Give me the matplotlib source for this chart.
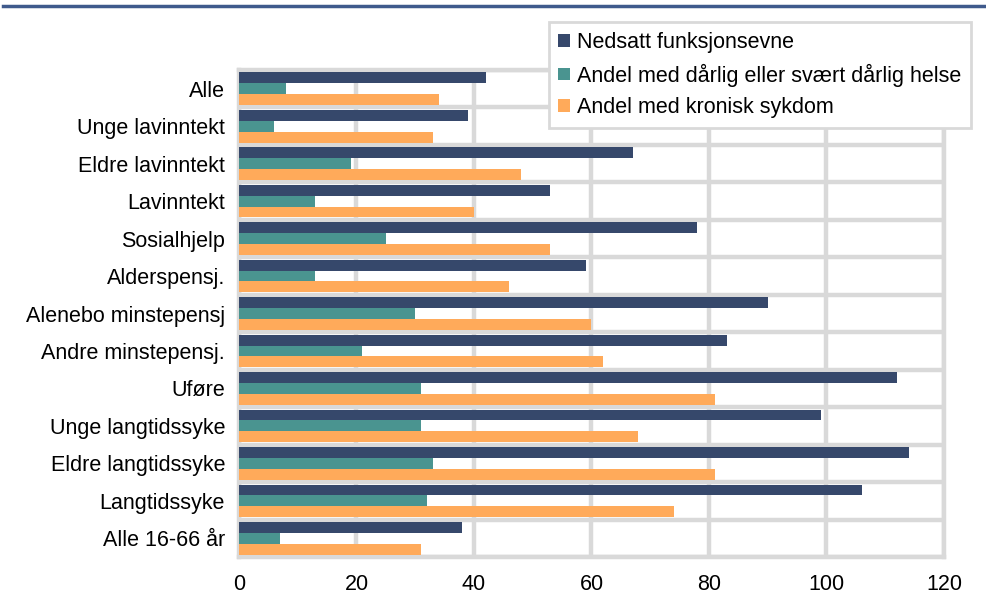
import matplotlib

matplotlib.use("Agg")
import matplotlib.pyplot as plt
from matplotlib.lines import Line2D
import numpy as np

plt.rcParams["font.family"] = ["Liberation Sans", "DejaVu Sans"]

categories = [
    "Alle", "Unge lavinntekt", "Eldre lavinntekt", "Lavinntekt", "Sosialhjelp",
    "Alderspensj.", "Alenebo minstepensj", "Andre minstepensj.", "Uføre",
    "Unge langtidssyke", "Eldre langtidssyke", "Langtidssyke", "Alle 16-66 år",
]
nedsatt = [42, 39, 67, 53, 78, 59, 90, 83, 112, 99, 114, 106, 38]
darlig_helse = [8, 6, 19, 13, 25, 13, 30, 21, 31, 31, 33, 32, 7]
kronisk = [34, 33, 48, 40, 53, 46, 60, 62, 81, 68, 81, 74, 31]

series_names = [
    "Nedsatt funksjonsevne",
    "Andel med dårlig eller svært dårlig helse",
    "Andel med kronisk sykdom",
]
colors = ["#36486B", "#4A9490", "#FFAA5A"]
GRID = "#D9D9D9"
FS = 15.5

fig = plt.figure(figsize=(9.87, 5.96), dpi=100)
ax = fig.add_axes([0.2421, 0.0654, 0.7143, 0.8171])

y = np.arange(len(categories))
h = 0.29
for k, (vals, name, col) in enumerate(zip([nedsatt, darlig_helse, kronisk], series_names, colors)):
    ax.barh(y + (k - 1) * h, vals, height=h, color=col, label=name, zorder=3)

ax.set_xlim(0, 120)
ax.set_ylim(len(categories) - 0.5, -0.5)
ax.set_xticks(np.arange(0, 121, 20))
ax.set_yticks(y)
ax.set_yticklabels(categories)
ax.set_yticks(np.arange(-0.5, len(categories), 1), minor=True)
ax.tick_params(axis="both", which="both", length=0, labelsize=FS)
ax.tick_params(axis="x", pad=12)
ax.tick_params(axis="y", pad=10)

ax.xaxis.grid(True, color=GRID, linewidth=3.2, zorder=0)
ax.yaxis.grid(True, which="minor", color=GRID, linewidth=3.2, zorder=0)
ax.set_axisbelow(True)
for s in ax.spines.values():
    s.set_color(GRID)
    s.set_linewidth(3.2)

leg = ax.legend(loc="upper left", bbox_to_anchor=(0.556, 0.963), bbox_transform=fig.transFigure,
                fontsize=FS, frameon=True, fancybox=False, framealpha=1,
                handlelength=0.55, handleheight=0.55, handletextpad=0.3,
                borderpad=0.45, labelspacing=0.5, borderaxespad=0)
leg.get_frame().set_edgecolor(GRID)
leg.get_frame().set_linewidth(2)

fig.add_artist(Line2D([0.003, 1.0], [0.99, 0.99], transform=fig.transFigure,
                      color="#3F5A8C", linewidth=2.5))

fig.savefig("out.png", dpi=100, facecolor="white")
